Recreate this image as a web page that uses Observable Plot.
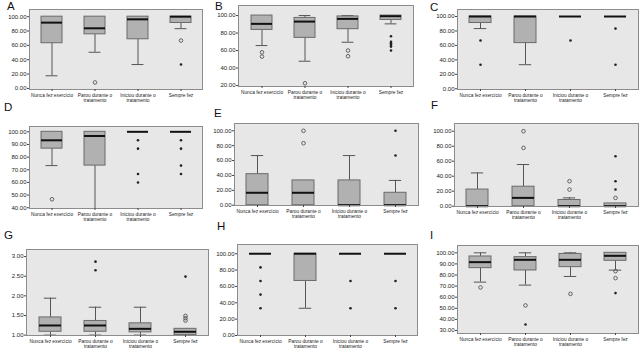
<!DOCTYPE html>
<html>
<head>
<meta charset="utf-8">
<script src="https://cdn.jsdelivr.net/npm/d3@7"></script>
<script src="https://cdn.jsdelivr.net/npm/@observablehq/plot@0.6"></script>
<style>
  body { margin: 0; background: #fff; font-family: "Liberation Sans", Arial, sans-serif; }
  #chart { position: relative; width: 642px; height: 354px; overflow: hidden; }
  .panel { position: absolute; }
  .letter { position: absolute; font-size: 11.5px; line-height: 11px; height: 11px; color: #111; }
</style>
</head>
<body>
<div id="chart"></div>
<script>
// Exercise groups (x axis of every panel)
const categories = ["Nunca fez exercício", "Parou durante o\ntratamento", "Iniciou durante o\ntratamento", "Sempre fez"];

// Box statistics per group: [lower whisker, Q1, median, Q3, upper whisker]
// Outliers: [group index, value]; circles = outliers, stars = extremes
const boxesA = [[17.6, 63, 91.7, 100, 100], [50.4, 75.4, 83.8, 100, 100], [33.3, 68.5, 96.3, 100, 100], [83.3, 91.2, 100, 100, 100]];
const circlesA = [[1, 8.3], [3, 66.7]];
const starsA = [[3, 33.3]];

const boxesB = [[65.7, 83.6, 90.5, 100, 100], [47.8, 74.5, 93.1, 97.3, 100], [69.5, 84.4, 96.2, 99, 100], [90.5, 95, 99.3, 100, 100]];
const circlesB = [[0, 58], [0, 53.1], [1, 22.6], [2, 60], [2, 53.5]];
const starsB = [[3, 76.4], [3, 70], [3, 68.3], [3, 66.4], [3, 64.5], [3, 60]];

const boxesC = [[83.3, 91, 100, 100, 100], [33.3, 63.2, 100, 100, 100], [100, 100, 100, 100, 100], [100, 100, 100, 100, 100]];
const circlesC = [];
const starsC = [[0, 66.7], [0, 33.3], [2, 66.7], [3, 83.3], [3, 33.3]];

const boxesD = [[73.3, 86.7, 93.3, 100, 100], [39.4, 73.3, 96.7, 100, 100], [100, 100, 100, 100, 100], [100, 100, 100, 100, 100]];
const circlesD = [[0, 46.7]];
const starsD = [[2, 93.3], [2, 86.7], [2, 66.7], [2, 60], [3, 93.3], [3, 86.7], [3, 73.3], [3, 66.7]];

const boxesE = [[0, 0, 16.7, 41.7, 66.7], [0, 0, 16.7, 33.3, 33.3], [0, 0, 0, 33.3, 66.7], [0, 0, 0, 16.7, 33.3]];
const circlesE = [[1, 100], [1, 83.3]];
const starsE = [[3, 100], [3, 66.7]];

const boxesF = [[0, 0, 0, 22.2, 44.4], [0, 0, 11.1, 26, 55.6], [0, 0, 0, 8.3, 11.1], [0, 0, 0, 3.7, 3.7]];
const circlesF = [[1, 100], [1, 77.8], [2, 33.3], [2, 22.2], [3, 11.1]];
const starsF = [[3, 66.7], [3, 33.3], [3, 22.2]];

const boxesG = [[1, 1.085, 1.245, 1.45, 1.94], [1, 1.085, 1.245, 1.36, 1.71], [1, 1.07, 1.16, 1.3, 1.71], [1, 1, 1.085, 1.16, 1.16]];
const circlesG = [[3, 1.49], [3, 1.43], [3, 1.37]];
const starsG = [[1, 2.87], [1, 2.65], [3, 2.49]];

const boxesH = [[100, 100, 100, 100, 100], [33.3, 66.7, 100, 100, 100], [100, 100, 100, 100, 100], [100, 100, 100, 100, 100]];
const circlesH = [];
const starsH = [[0, 83.3], [0, 66.7], [0, 50], [0, 33.3], [2, 66.7], [2, 33.3], [3, 66.7], [3, 33.3]];

const boxesI = [[73.6, 86.2, 91.6, 96.7, 100], [70.9, 84.1, 93.7, 96.1, 100], [78.7, 87.1, 93.7, 99, 100], [84.4, 92.8, 97.3, 100, 100]];
const circlesI = [[0, 68.8], [1, 52.6], [2, 63], [3, 83.5], [3, 77.2]];
const starsI = [[1, 35.4], [3, 63.7]];

// Y tick values
const ticks0to100 = [0, 20, 40, 60, 80, 100];
const ticksB = [20, 40, 60, 80, 100];
const ticksD = [40, 50, 60, 70, 80, 90, 100];
const ticksG = [1, 1.5, 2, 2.5, 3];
const ticksI = [30, 40, 50, 60, 70, 80, 90, 100];

// letter: [left, top] of the panel letter
const panels = [
  {letter: "A", at: [7, 1],    frame: [29, 202, 9, 89],    domain: [-1.5, 110],   ticks: ticks0to100, boxes: boxesA, circles: circlesA, stars: starsA},
  {letter: "B", at: [215, 1],  frame: [238, 413, 5, 86],   domain: [18.9, 111.5], ticks: ticksB,      boxes: boxesB, circles: circlesB, stars: starsB},
  {letter: "C", at: [430, 2],  frame: [457, 638, 9, 89],   domain: [-1, 109.7],   ticks: ticks0to100, boxes: boxesC, circles: circlesC, stars: starsC},
  {letter: "D", at: [4, 102],  frame: [29, 202, 126, 208], domain: [39.4, 104.2], ticks: ticksD,      boxes: boxesD, circles: circlesD, stars: starsD},
  {letter: "E", at: [214, 108],frame: [234, 418, 123, 205],domain: [-0.4, 109.8], ticks: ticks0to100, boxes: boxesE, circles: circlesE, stars: starsE},
  {letter: "F", at: [431, 100],frame: [454, 638, 123, 206],domain: [-0.4, 110.3], ticks: ticks0to100, boxes: boxesF, circles: circlesF, stars: starsF},
  {letter: "G", at: [4, 230],  frame: [26, 208, 249, 335], domain: [0.99, 3.18],  ticks: ticksG,      boxes: boxesG, circles: circlesG, stars: starsG},
  {letter: "H", at: [217, 221],frame: [237, 417, 244, 335],domain: [0, 111.3],    ticks: ticks0to100, boxes: boxesH, circles: circlesH, stars: starsH},
  {letter: "I", at: [430, 230],frame: [457, 638, 245, 333],domain: [27.3, 106.6], ticks: ticksI,      boxes: boxesI, circles: circlesI, stars: starsI}
];

const chart = document.getElementById("chart");
const mL = 30, mR = 1, mT = 1, mB = 20;

function boxPanel(p) {
  const [x0, x1, y0, y1] = p.frame;
  const W = x1 - x0, H = y1 - y0;
  const rows = p.boxes.map((b, i) => ({cat: categories[i], low: b[0], q1: b[1], med: b[2], q3: b[3], high: b[4]}));
  const step = W / 4;
  const boxW = step * 0.48;
  const capInset = boxW * 0.22;
  const out = (list) => list.map(([i, v]) => ({cat: categories[i], v}));

  return Plot.plot({
    width: W + mL + mR,
    height: H + mT + mB,
    marginLeft: mL, marginRight: mR, marginTop: mT, marginBottom: mB,
    style: {background: "transparent", fontFamily: "'Liberation Sans', Arial, sans-serif", color: "#222"},
    x: {type: "band", domain: categories, paddingInner: 0.52, paddingOuter: 0.26, label: null},
    y: {domain: p.domain, label: null},
    marks: [
      Plot.frame({fill: "#e7e7e7", stroke: null}),
      // whiskers and caps
      Plot.ruleX(rows.filter(d => d.low < d.q1), {x: "cat", y1: "low", y2: "q1", stroke: "#555", strokeWidth: 1}),
      Plot.ruleX(rows.filter(d => d.high > d.q3), {x: "cat", y1: "q3", y2: "high", stroke: "#555", strokeWidth: 1}),
      Plot.tickY(rows.filter(d => d.low < d.q1), {x: "cat", y: "low", stroke: "#555", insetLeft: capInset, insetRight: capInset}),
      Plot.tickY(rows.filter(d => d.high > d.q3), {x: "cat", y: "high", stroke: "#555", insetLeft: capInset, insetRight: capInset}),
      // interquartile boxes
      Plot.barY(rows.filter(d => d.q3 > d.q1), {x: "cat", y1: "q1", y2: "q3", fill: "#b1b1b1", stroke: "#6a6a6a", strokeWidth: 1}),
      // medians
      Plot.tickY(rows, {x: "cat", y: "med", stroke: "#111", strokeWidth: 2}),
      // outliers and extremes
      Plot.dot(out(p.circles), {x: "cat", y: "v", r: 1.8, stroke: "#555", fill: "none", strokeWidth: 0.9}),
      Plot.dot(out(p.stars), {x: "cat", y: "v", r: 1.3, fill: "#222", stroke: null}),
      Plot.frame({stroke: "#8c8c8c"}),
      Plot.axisY({ticks: p.ticks, tickFormat: d3.format(".2f"), tickSize: 2, tickPadding: 1, fontSize: 6, stroke: "#444"}),
      Plot.axisX({tickSize: 2, tickPadding: 2, fontSize: 4.8, lineHeight: 1.05, stroke: "#444"})
    ]
  });
}

for (const p of panels) {
  const div = document.createElement("div");
  div.className = "panel";
  div.style.left = (p.frame[0] - mL) + "px";
  div.style.top = (p.frame[2] - mT) + "px";
  div.appendChild(boxPanel(p));
  chart.appendChild(div);

  const lab = document.createElement("div");
  lab.className = "letter";
  lab.textContent = p.letter;
  lab.style.left = p.at[0] + "px";
  lab.style.top = p.at[1] + "px";
  chart.appendChild(lab);
}
</script>
</body>
</html>
